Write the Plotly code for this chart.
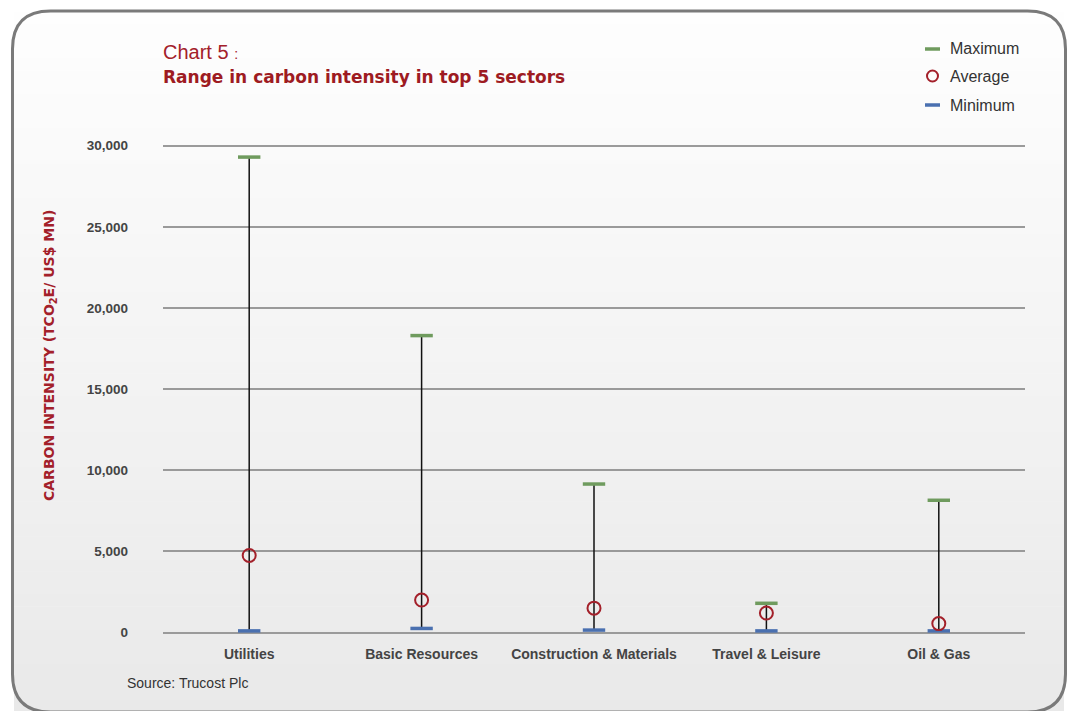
import plotly.graph_objects as go

# Sector carbon intensity ranges (tCO2e / US$ mn)
sectors = ["Utilities", "Basic Resources", "Construction & Materials", "Travel & Leisure", "Oil & Gas"]
maximum = [29300, 18300, 9150, 1800, 8150]
average = [4750, 2000, 1500, 1200, 550]
minimum = [100, 250, 150, 100, 100]

W, H = 1073, 711
L, R, T, B = 163, 1025, 136, 639
Y_RANGE = [-400, 30600]

RED = "#a3202a"
GREEN = "#6f9b5e"
BLUE = "#4a70b0"
TXT = "#444444"
SANS = "Liberation Sans, Arial"
HEAVY = "DejaVu Sans"


def px(x):
    return (x - L) / (R - L)


def py(y):
    return (B - y) / (B - T)


fig = go.Figure()

# whiskers from minimum to maximum
wx, wy = [], []
for s, lo, hi in zip(sectors, minimum, maximum):
    wx += [s, s, None]
    wy += [lo, hi, None]
fig.add_trace(go.Scatter(x=wx, y=wy, mode="lines", line=dict(color="#111111", width=1.5),
                         hoverinfo="skip", showlegend=False))

fig.add_trace(go.Scatter(x=sectors, y=maximum, mode="markers", name="Maximum",
                         marker=dict(symbol="line-ew", size=16, line=dict(color=GREEN, width=3.5)),
                         showlegend=False))
fig.add_trace(go.Scatter(x=sectors, y=minimum, mode="markers", name="Minimum",
                         marker=dict(symbol="line-ew", size=16, line=dict(color=BLUE, width=3.5)),
                         showlegend=False))
fig.add_trace(go.Scatter(x=sectors, y=average, mode="markers", name="Average",
                         marker=dict(symbol="circle-open", size=13, color=RED, line=dict(color=RED, width=2)),
                         showlegend=False))

shapes = []
# soft vertical gradient inside the frame
top_c, bot_c = (254, 254, 254), (233, 233, 233)
n = 60
y0, y1 = 12, 711
for i in range(n):
    a = y0 + (y1 - y0) * i / n
    b = y0 + (y1 - y0) * (i + 1) / n
    t = (i + 0.5) / n
    c = tuple(round(top_c[k] + (bot_c[k] - top_c[k]) * t) for k in range(3))
    shapes.append(dict(type="rect", xref="paper", yref="paper", layer="below",
                       x0=px(14), x1=px(1064), y0=py(b + 0.5), y1=py(a),
                       fillcolor="rgb(%d,%d,%d)" % c, line=dict(width=0)))

# rounded frame
fx0, fx1, fy0, fy1, r = 12.5, 1065.5, 11, 712, 38


def P(x, y):
    return "%f %f" % (px(x), py(y))


path = ("M " + P(fx0 + r, fy0) + " L " + P(fx1 - r, fy0) + " Q " + P(fx1, fy0) + " " + P(fx1, fy0 + r) +
        " L " + P(fx1, fy1 - r) + " Q " + P(fx1, fy1) + " " + P(fx1 - r, fy1) +
        " L " + P(fx0 + r, fy1) + " Q " + P(fx0, fy1) + " " + P(fx0, fy1 - r) +
        " L " + P(fx0, fy0 + r) + " Q " + P(fx0, fy0) + " " + P(fx0 + r, fy0) + " Z")
shapes.append(dict(type="path", xref="paper", yref="paper", path=path, layer="below",
                   line=dict(color="#7a7a7a", width=3)))

# legend glyphs
shapes.append(dict(type="line", xref="paper", yref="paper", x0=px(925), x1=px(940), y0=py(49), y1=py(49),
                   line=dict(color=GREEN, width=3.5)))
shapes.append(dict(type="circle", xref="paper", yref="paper", x0=px(927), x1=px(938), y0=py(81.5), y1=py(70.5),
                   line=dict(color=RED, width=2)))
shapes.append(dict(type="line", xref="paper", yref="paper", x0=px(925), x1=px(940), y0=py(105), y1=py(105),
                   line=dict(color=BLUE, width=3.5)))

annotations = [
    dict(x=px(161), y=py(52), xref="paper", yref="paper", xanchor="left", yanchor="middle", showarrow=False,
         text="Chart 5 <span style='font-size:14px'>:</span>",
         font=dict(family=SANS, size=20, color=RED)),
    dict(x=px(161), y=py(77), xref="paper", yref="paper", xanchor="left", yanchor="middle", showarrow=False,
         text="Range in carbon intensity in top 5 sectors",
         font=dict(family=HEAVY, size=17, color="#9e1b22", weight="bold")),
    dict(x=px(50), y=py(356), xref="paper", yref="paper", xanchor="center", yanchor="middle", showarrow=False,
         textangle=-90, text="CARBON INTENSITY (TCO<sub>2</sub>E/ US$ MN)",
         font=dict(family=HEAVY, size=14, color=RED, weight="bold")),
    dict(x=px(125), y=py(683), xref="paper", yref="paper", xanchor="left", yanchor="middle", showarrow=False,
         text="Source: Trucost Plc", font=dict(family=SANS, size=14, color="#333333")),
]
for label, yy in [("Maximum", 49), ("Average", 76), ("Minimum", 105)]:
    annotations.append(dict(x=px(948), y=py(yy), xref="paper", yref="paper", xanchor="left", yanchor="middle",
                            showarrow=False, text=label,
                            font=dict(family=SANS, size=16, color="#333333")))

fig.update_layout(
    width=W, height=H,
    margin=dict(l=L, r=W - R, t=T, b=H - B, pad=0),
    paper_bgcolor="white",
    plot_bgcolor="rgba(0,0,0,0)",
    font=dict(family=SANS, color=TXT),
    shapes=shapes,
    annotations=annotations,
    xaxis=dict(type="category", categoryorder="array", categoryarray=sectors, showgrid=False,
               showline=False, zeroline=False, ticks="", ticklabelstandoff=5,
               tickfont=dict(family=SANS, size=14, color=TXT, weight="bold"),
               range=[-0.5, 4.5]),
    yaxis=dict(range=Y_RANGE, tickvals=[0, 5000, 10000, 15000, 20000, 25000, 30000],
               tickformat=",d", showgrid=True, gridcolor="#9a9a9a", gridwidth=1.5,
               zeroline=False, showline=False, ticks="", ticklabelstandoff=34,
               tickfont=dict(family=SANS, size=13.5, color=TXT, weight="bold")),
)

fig.write_html("out.html")
